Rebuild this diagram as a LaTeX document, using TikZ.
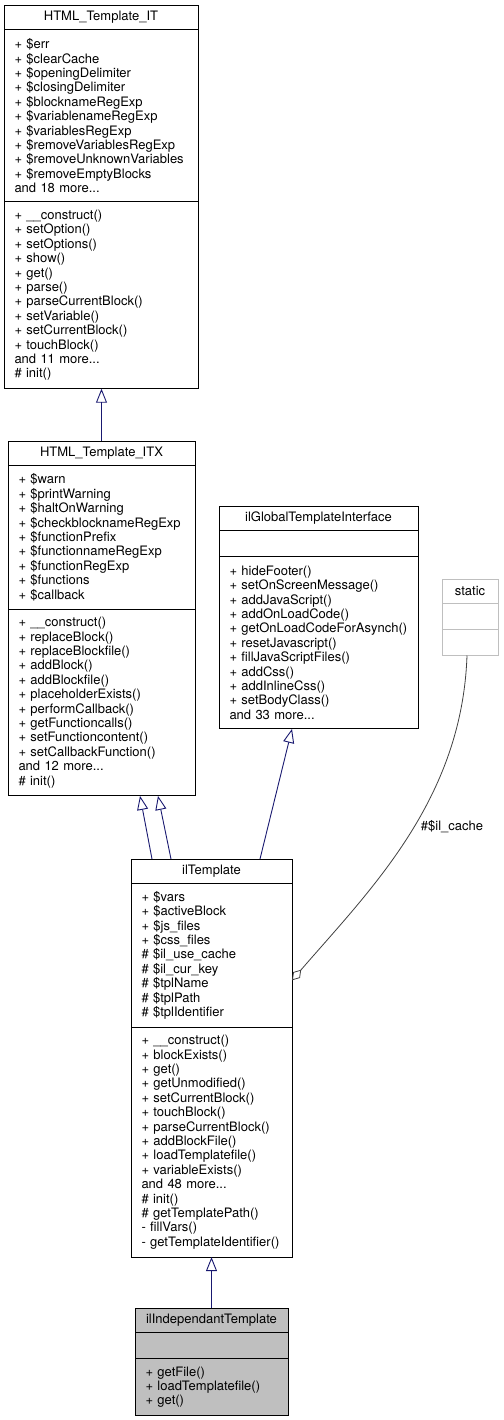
\documentclass[tikz,border=0pt]{standalone}
\usepackage{fontspec}
\setmainfont{TeX Gyre Heros}
\usetikzlibrary{positioning,arrows.meta}
\definecolor{edgeblue}{HTML}{191970}
\definecolor{boxgray}{HTML}{BFBFBF}
\definecolor{edgegray}{HTML}{404040}
\begin{document}
\begin{tikzpicture}[x=1pt, y=-1pt,
                    font=\fontsize{13}{14.4}\selectfont,
                    classname/.style={draw, line width=0.9pt, fill=white, anchor=north, outer sep=0pt,
                                      inner sep=0pt, minimum width=#1, minimum height=24.5pt},
                    members/.style 2 args={draw, line width=0.9pt, fill=white, inner xsep=10.5pt, outer sep=0pt,
                                           inner ysep=0pt, text width=#1, minimum height=#2, align=left},
                    current/.style={fill=boxgray},
                    external/.style={draw=boxgray},
                    inherit/.style={draw=edgeblue, line width=0.9pt,
                                    -{Triangle[open, length=14pt, width=11pt]}},
                    aggreg/.style={draw=edgegray, line width=0.8pt,
                                   {Diamond[open, length=14pt, width=9pt]}-}]
  \useasboundingbox (0,0) rectangle (503,1420);

  \node[classname=194pt] (it-name) at (101,5) {HTML\_Template\_IT};
  \node[members={173pt}{172.4pt}, below=0pt of it-name] (it-attr)
    {+ \$err\\ + \$clearCache\\ + \$openingDelimiter\\ + \$closingDelimiter\\
     + \$blocknameRegExp\\ + \$variablenameRegExp\\ + \$variablesRegExp\\
     + \$removeVariablesRegExp\\ + \$removeUnknownVariables\\ + \$removeEmptyBlocks\\
     and 18 more...};
  \node[members={173pt}{186.8pt}, below=0pt of it-attr] (it-ops)
    {+ \_\_construct()\\ + setOption()\\ + setOptions()\\ + show()\\ + get()\\ + parse()\\
     + parseCurrentBlock()\\ + setVariable()\\ + setCurrentBlock()\\ + touchBlock()\\
     and 11 more...\\ \# init()};

  \node[classname=187pt] (itx-name) at (101.5,441) {HTML\_Template\_ITX};
  \node[members={166pt}{143.6pt}, below=0pt of itx-name] (itx-attr)
    {+ \$warn\\ + \$printWarning\\ + \$haltOnWarning\\ + \$checkblocknameRegExp\\
     + \$functionPrefix\\ + \$functionnameRegExp\\ + \$functionRegExp\\ + \$functions\\
     + \$callback};
  \node[members={166pt}{186.8pt}, below=0pt of itx-attr] (itx-ops)
    {+ \_\_construct()\\ + replaceBlock()\\ + replaceBlockfile()\\ + addBlock()\\
     + addBlockfile()\\ + placeholderExists()\\ + performCallback()\\ + getFunctioncalls()\\
     + setFunctioncontent()\\ + setCallbackFunction()\\ and 12 more...\\ \# init()};

  \node[classname=199pt] (glob-name) at (318.5,506) {ilGlobalTemplateInterface};
  \node[members={178pt}{26pt}, below=0pt of glob-name] (glob-attr) {};
  \node[members={178pt}{172.4pt}, below=0pt of glob-attr] (glob-ops)
    {+ hideFooter()\\ + setOnScreenMessage()\\ + addJavaScript()\\ + addOnLoadCode()\\
     + getOnLoadCodeForAsynch()\\ + resetJavascript()\\ + fillJavaScriptFiles()\\
     + addCss()\\ + addInlineCss()\\ + setBodyClass()\\ and 33 more...};

  \node[classname=56pt, external] (static-name) at (470,579) {static};
  \node[members={35pt}{26pt}, external, below=0pt of static-name] (static-attr) {};
  \node[members={35pt}{26pt}, external, below=0pt of static-attr] (static-ops) {};

  \node[classname=161pt] (tpl-name) at (211.5,859) {ilTemplate};
  \node[members={140pt}{143.6pt}, below=0pt of tpl-name] (tpl-attr)
    {+ \$vars\\ + \$activeBlock\\ + \$js\_files\\ + \$css\_files\\ \# \$il\_use\_cache\\
     \# \$il\_cur\_key\\ \# \$tplName\\ \# \$tplPath\\ \# \$tplIdentifier};
  \node[members={140pt}{230pt}, below=0pt of tpl-attr] (tpl-ops)
    {+ \_\_construct()\\ + blockExists()\\ + get()\\ + getUnmodified()\\
     + setCurrentBlock()\\ + touchBlock()\\ + parseCurrentBlock()\\ + addBlockFile()\\
     + loadTemplatefile()\\ + variableExists()\\ and 48 more...\\ \# init()\\
     \# getTemplatePath()\\ - fillVars()\\ - getTemplateIdentifier()};

  \node[classname=153pt, current] (indep-name) at (211.5,1308) {ilIndependantTemplate};
  \node[members={132pt}{26pt}, current, below=0pt of indep-name] (indep-attr) {};
  \node[members={132pt}{57.2pt}, current, below=0pt of indep-attr] (indep-ops)
    {+ getFile()\\ + loadTemplatefile()\\ + get()};

  \draw[inherit] (itx-name.north) -- (itx-name.north |- it-ops.south);
  \draw[inherit] ([xshift=21pt]tpl-name.north west) -- ([xshift=38.5pt]itx-ops.south);
  \draw[inherit] ([xshift=40pt]tpl-name.north west) -- ([xshift=56.5pt]itx-ops.south);
  \draw[inherit] ([xshift=-32pt]tpl-name.north east) -- ([xshift=-26.5pt]glob-ops.south);
  \draw[inherit] (indep-name.north) -- (tpl-ops.south);

  \draw[aggreg] ([yshift=-25pt]tpl-attr.east) .. controls (370,890) and (462,800) .. ([xshift=-3pt]static-ops.south);
  \node (cachelbl) at (452,827) {\#\$il\_cache};
\end{tikzpicture}
\end{document}
